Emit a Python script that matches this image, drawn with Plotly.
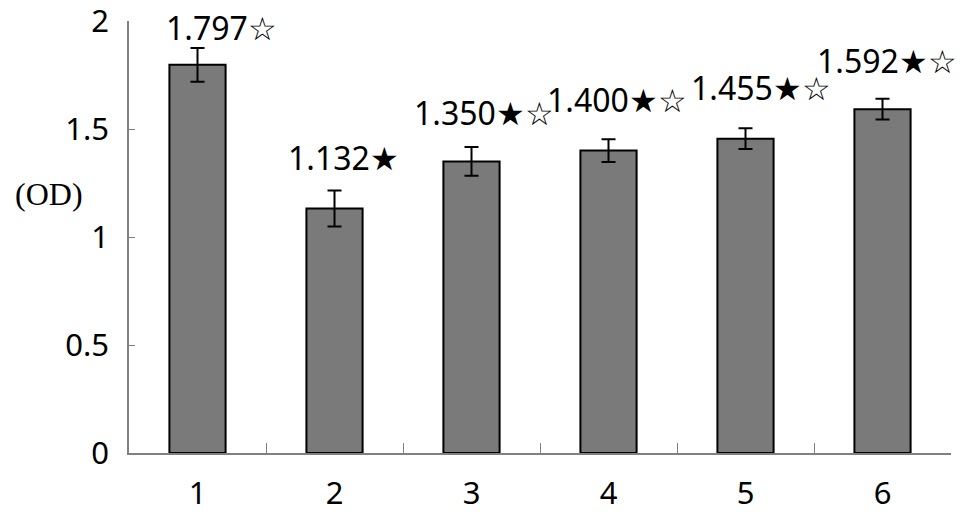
import plotly.graph_objects as go

categories = ["1", "2", "3", "4", "5", "6"]
values = [1.797, 1.132, 1.350, 1.400, 1.455, 1.592]
errors = [0.078, 0.083, 0.067, 0.053, 0.048, 0.048]
labels = ["1.797☆", "1.132★", "1.350★☆", "1.400★☆", "1.455★☆", "1.592★☆"]
y_ticks = [0, 0.5, 1, 1.5, 2]
y_tick_text = ["0", "0.5", "1", "1.5", "2"]

# label offsets (pixels) for the value annotations
label_xshift = [24, 9, 12, 8, 15, 4]
label_yshift = [-3, 10, 11, 16, 17, 15]

FONT = "Noto Sans"

fig = go.Figure()
fig.add_trace(go.Bar(
    x=categories, y=values,
    marker=dict(color="#7a7a7a", line=dict(color="black", width=2)),
    error_y=dict(type="data", array=errors, color="black", thickness=2, width=7),
    width=0.41,
))

for i, (v, e, t, xs, ys) in enumerate(zip(values, errors, labels, label_xshift, label_yshift)):
    fig.add_annotation(x=i, y=v + e, text=t, showarrow=False, xanchor="center", yanchor="bottom",
                       xshift=xs, yshift=ys, font=dict(family=FONT, size=32, color="black"))

fig.add_annotation(x=0, xref="paper", y=1.2, yref="y", text="(OD)", showarrow=False,
                   xanchor="right", xshift=-44, font=dict(family="Liberation Serif", size=32, color="black"))

fig.update_layout(
    width=961, height=519,
    margin=dict(l=121, r=18, t=13, b=74, autoexpand=False),
    paper_bgcolor="white", plot_bgcolor="white",
    showlegend=False,
    font=dict(family=FONT, size=31, color="black"),
)
fig.update_xaxes(type="category", range=[-0.5, 5.5], automargin=False, showline=True,
                 linecolor="#808080", linewidth=1.5,
                 ticks="inside", ticklen=10, tickcolor="#808080", tickson="boundaries",
                 showgrid=False, tickfont=dict(size=31, family=FONT), ticklabelstandoff=12,
                 ticklabeloverflow="allow")
fig.update_yaxes(range=[0, 2], automargin=False, tickvals=y_ticks, ticktext=y_tick_text, showline=True,
                 linecolor="#808080", linewidth=1.5, ticks="inside", ticklen=6, tickcolor="#808080",
                 showgrid=False, zeroline=False, tickfont=dict(size=31, family=FONT), ticklabelstandoff=12,
                 ticklabeloverflow="allow")

fig.write_html("out.html")
